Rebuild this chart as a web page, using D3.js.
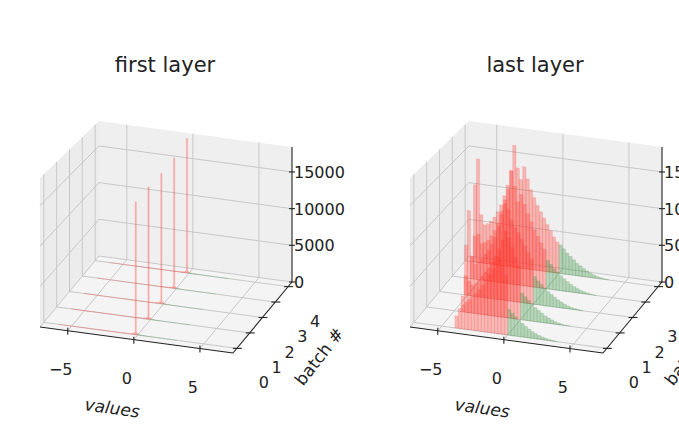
<!DOCTYPE html>
<html>
<head>
<meta charset="utf-8">
<script src="https://cdn.jsdelivr.net/npm/d3@7"></script>
<style>
  body { margin: 0; background: #fff; }
  text { font-family: "DejaVu Sans", sans-serif; fill: #222; }
</style>
</head>
<body>
<script>
// ---- data ----
const batches = [0, 1, 2, 3, 4]
const xTicks = [-5, 0, 5]
const zTicks = [0, 5000, 10000, 15000]

// first layer: narrow spike just below zero
const firstEdges = [-6, -3, -1, -0.5, -0.3, -0.2, -0.1, 0, 0.2, 0.5, 1, 3]
const firstCounts = [
  [15, 30, 60, 120, 250, 16500, 220, 100, 40, 15, 5],
  [15, 30, 60, 120, 250, 16800, 220, 100, 40, 15, 5],
  [15, 30, 60, 120, 250, 16900, 220, 100, 40, 15, 5],
  [15, 30, 60, 120, 250, 17300, 220, 100, 40, 15, 5],
  [15, 30, 60, 120, 250, 18200, 220, 100, 40, 15, 5]
]

// last layer: bins of 0.25 from -7 to 4
const lastStart = -7, lastWidth = 0.25
const lastCounts = [
  [0,0,0,0,0,0,0,0,0,0,0,0, 1500,2500,3000,3400,3800,4200,4600,5200,5800,6500,7200,8000,8800,9500,8600,7400, 3200,2800,2400,2000,1700,1400,1100,850,650,480,350,240,150,90,40,0],
  [0,0,0,0,0,0,0,0,0,0, 2000,8500,4000,3500,3800,4300,4800,5400,6000,6800,7600,8600,9800,11000,10200,9000,7800,6800, 3400,3000,2600,2200,1800,1500,1200,900,700,500,350,230,140,80,30,0],
  [0,0,0,0,0,0,0, 2500,11000,5000,4200,4500,5000,5600,6200,7000,8000,9500,11500,13000,11800,10500,9600,9000,8200,7400,6600,5800, 3600,3100,2700,2300,1900,1600,1300,1000,760,560,400,270,170,100,40,0],
  [0,0,0,0,0, 3000,12500,6000,4800,5000,5400,6000,6800,7800,9000,10500,12500,15000,13000,11000,12000,10800,9600,8600,7600,6800,6000,5200, 3800,3300,2800,2400,2000,1650,1350,1050,800,600,420,290,180,100,40,0],
  [0,0, 3500,14000,6500,5200,5400,5800,6400,7200,8200,9500,11000,13000,16500,13500,12000,13800,12200,10800,9800,8800,8000,7200,6400,5600,4800,4200, 3900,3400,2900,2500,2100,1700,1400,1100,850,620,440,300,190,110,45,0]
]

const W = 679, H = 441
const svg = d3.select("body").append("svg").attr("width", W).attr("height", H)

const X0 = -7.1, X1 = 7.5, Y0 = -0.3, Y1 = 4.3, ZMAX = 18400

function makePanel(dx, title, bins) {
  const g = svg.append("g").attr("transform", `translate(${dx},0)`)
  const fx = d3.scaleLinear().domain([X0, X1]).range([0, 1])
  const fy = d3.scaleLinear().domain([Y0, Y1]).range([0, 1])
  const zPx = d3.scaleLinear().domain([0, 1]).range([149, 135])
  const A = [40, 327], B = [233, 353], C = [292, 282]
  const proj = (x, y, z) => {
    const u = fx(x), t = fy(y)
    const px = A[0] + u * (B[0] - A[0]) + t * (C[0] - B[0])
    const py = A[1] + u * (B[1] - A[1]) + t * (C[1] - B[1])
    return [px, py - (z / ZMAX) * zPx(t)]
  }
  const poly = pts => "M" + pts.map(p => proj(...p).join(",")).join("L") + "Z"

  // panes
  g.append("path").attr("d", poly([[X0,Y0,0],[X1,Y0,0],[X1,Y1,0],[X0,Y1,0]])).attr("fill", "#f4f4f4")
  g.append("path").attr("d", poly([[X0,Y0,0],[X0,Y1,0],[X0,Y1,ZMAX],[X0,Y0,ZMAX]])).attr("fill", "#ececec")
  g.append("path").attr("d", poly([[X0,Y1,0],[X1,Y1,0],[X1,Y1,ZMAX],[X0,Y1,ZMAX]])).attr("fill", "#efefef")

  const grid = g.append("g").attr("stroke", "#c8c8c8").attr("stroke-width", 1)
  const gl = (p, q) => grid.append("line")
    .attr("x1", proj(...p)[0]).attr("y1", proj(...p)[1])
    .attr("x2", proj(...q)[0]).attr("y2", proj(...q)[1])
  xTicks.forEach(x => { gl([x,Y0,0],[x,Y1,0]); gl([x,Y1,0],[x,Y1,ZMAX]) })
  batches.forEach(y => { gl([X0,y,0],[X1,y,0]); gl([X0,y,0],[X0,y,ZMAX]) })
  zTicks.forEach(z => { gl([X0,Y0,z],[X0,Y1,z]); gl([X0,Y1,z],[X1,Y1,z]) })

  // bars, back to front
  const bars = g.append("g")
  batches.slice().reverse().forEach(b => {
    bins(b).forEach(d => {
      if (d.c <= 0) return
      const neg = d.x1 <= 0
      bars.append("path")
        .attr("d", poly([[d.x0,b,0],[d.x1,b,0],[d.x1,b,d.c],[d.x0,b,d.c]]))
        .attr("fill", neg ? "rgba(255,50,40,0.3)" : "rgba(40,140,50,0.3)")
        .attr("stroke", neg ? "rgba(255,70,60,0.3)" : "rgba(60,150,70,0.25)")
        .attr("stroke-width", 0.5)
    })
  })

  // axes
  const ax = g.append("g").attr("stroke", "#222").attr("stroke-width", 1.1)
  const al = (p, q) => ax.append("line")
    .attr("x1", proj(...p)[0]).attr("y1", proj(...p)[1])
    .attr("x2", proj(...q)[0]).attr("y2", proj(...q)[1])
  al([X0,Y0,0],[X1,Y0,0])
  al([X1,Y0,0],[X1,Y1,0])
  al([X1,Y1,0],[X1,Y1,ZMAX])

  xTicks.forEach(x => {
    const p = proj(x, Y0, 0)
    ax.append("line").attr("x1", p[0]).attr("y1", p[1] - 3).attr("x2", p[0]).attr("y2", p[1] + 4)
    g.append("text").attr("x", p[0] - 7).attr("y", p[1] + 44).attr("text-anchor", "middle")
      .attr("font-size", 16).text(x < 0 ? "\u2212" + (-x) : x)
  })
  batches.forEach(y => {
    const p = proj(X1, y, 0)
    ax.append("line").attr("x1", p[0] - 4).attr("y1", p[1]).attr("x2", p[0] + 5).attr("y2", p[1])
    g.append("text").attr("x", p[0] + 27).attr("y", p[1] + 40).attr("text-anchor", "middle")
      .attr("font-size", 16).text(y)
  })
  zTicks.forEach(z => {
    const p = proj(X1, Y1, z)
    ax.append("line").attr("x1", p[0] - 3).attr("y1", p[1]).attr("x2", p[0] + 3).attr("y2", p[1])
    g.append("text").attr("x", p[0] + 2).attr("y", p[1] + 6)
      .attr("font-size", 16).text(z)
  })

  g.append("text").attr("x", 112).attr("y", 414).attr("text-anchor", "middle")
    .attr("font-size", 17).attr("font-style", "italic").attr("transform", "rotate(8,112,410)").text("values")
  g.append("text").attr("x", 320).attr("y", 362).attr("text-anchor", "middle")
    .attr("font-size", 17).attr("transform", "rotate(-52,320,357)").text("batch #")
  g.append("text").attr("x", 165).attr("y", 72).attr("text-anchor", "middle")
    .attr("font-size", 21).text(title)
}

makePanel(0, "first layer", b => firstCounts[b].map((c, i) => ({ x0: firstEdges[i], x1: firstEdges[i + 1], c })))
makePanel(370, "last layer", b => lastCounts[b].map((c, i) => ({ x0: lastStart + i * lastWidth, x1: lastStart + (i + 1) * lastWidth, c })))
</script>
</body>
</html>
